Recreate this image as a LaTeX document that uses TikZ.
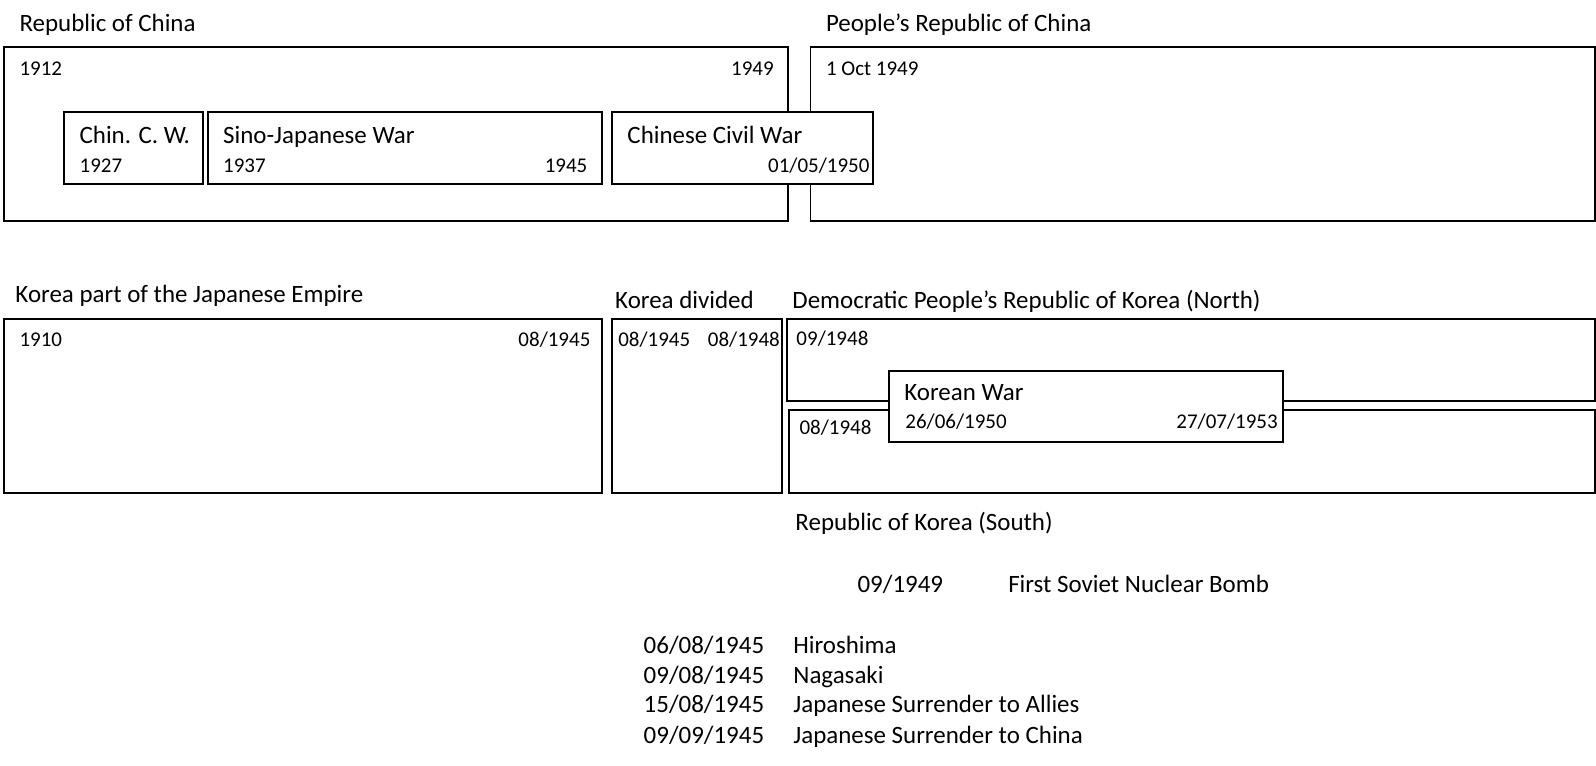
\documentclass[tikz,border=0pt]{standalone}
\usepackage{fontspec}
\setmainfont{Carlito}
\usepackage{tikz}
\usetikzlibrary{positioning}

\begin{document}
\begin{tikzpicture}[x=1pt, y=-1pt]
            \tikzstyle{period} = [draw, line width=1.8pt, inner sep=0pt, outer sep=0pt, anchor=north west]
            \tikzstyle{war} = [period, fill=white]
            \tikzstyle{big} = [inner sep=0pt, anchor=base west, font=\fontsize{24.5}{29}\selectfont]
            \tikzstyle{small} = [inner sep=0pt, anchor=base west, font=\fontsize{20.6}{25}\selectfont]
            \tikzstyle{smallr} = [small, anchor=base east]
            \useasboundingbox (0, 0) rectangle (1567.4, 752.2);

            % China
            \node[period, minimum width=770, minimum height=171] (roc) at (4, 46) {};
            \node[period, minimum width=770, minimum height=171] (prc) at (796, 46) {};
            \node[period, minimum width=136, minimum height=71] (ccw) at (63, 110) {};
            \node[period, minimum width=387, minimum height=71] (sjw) at (204, 110) {};
            \node[war, minimum width=256, minimum height=71] (civil) at (601, 110) {};

            \node[big] (roct) at (19, 31) {Republic of China};
            \node[big] (prct) at (811, 31) {People’s Republic of China};
            \node[small] (rocs) at (19, 74) {1912};
            \node[smallr] (roce) at (760, 74) {1949};
            \node[small] (prcs) at (811, 74) {1 Oct 1949};
            \node[big] (ccwt) at (78, 141) {Chin. C. W.};
            \node[small] (ccws) at (78, 169) {1927};
            \node[big] (sjwt) at (219, 141) {Sino-Japanese War};
            \node[small] (sjws) at (219, 169) {1937};
            \node[smallr] (sjwe) at (577, 169) {1945};
            \node[big] (civilt) at (616, 141) {Chinese Civil War};
            \node[smallr] (civile) at (854, 169) {01/05/1950};

            % Korea
            \node[period, minimum width=587, minimum height=171] (jap) at (4, 313) {};
            \node[period, minimum width=167, minimum height=171] (div) at (601, 313) {};
            \node[period, minimum width=793, minimum height=81] (north) at (773, 313) {};
            \node[period, minimum width=791, minimum height=81] (south) at (775, 403) {};
            \node[war, minimum width=387, minimum height=70] (kw) at (873, 364) {};

            \node[big] (japt) at (15, 297) {Korea part of the Japanese Empire};
            \node[small] (japs) at (19, 340) {1910};
            \node[smallr] (jape) at (580, 340) {08/1945};
            \node[big] (divt) at (604, 303) {Korea divided};
            \node[small] (divs) at (607, 340) {08/1945};
            \node[smallr] (dive) at (766, 340) {08/1948};
            \node[big] (northt) at (778, 303) {Democratic People’s Republic of Korea (North)};
            \node[small] (norths) at (782, 339) {09/1948};
            \node[small] (souths) at (785, 427) {08/1948};
            \node[big] (kwt) at (888, 393) {Korean War};
            \node[small] (kws) at (889, 421) {26/06/1950};
            \node[smallr] (kwe) at (1255, 421) {27/07/1953};
            \node[big] (southt) at (781, 521) {Republic of Korea (South)};

            % events
            \node[big] (sovd) at (842, 582) {09/1949};
            \node[big] (sovt) at (990, 582) {First Soviet Nuclear Bomb};
            \node[big] (ev1d) at (632, 642) {06/08/1945};
            \node[big] (ev1t) at (779, 642) {Hiroshima};
            \node[big] (ev2d) at (632, 671) {09/08/1945};
            \node[big] (ev2t) at (779, 671) {Nagasaki};
            \node[big] (ev3d) at (632, 700) {15/08/1945};
            \node[big] (ev3t) at (779, 700) {Japanese Surrender to Allies};
            \node[big] (ev4d) at (632, 730) {09/09/1945};
            \node[big] (ev4t) at (779, 730) {Japanese Surrender to China};

        \end{tikzpicture}
\end{document}
